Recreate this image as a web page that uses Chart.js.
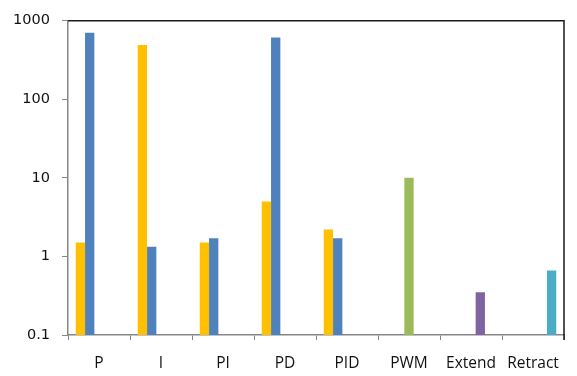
<!DOCTYPE html>
<html>
<head>
<meta charset="utf-8">
<script src="https://cdn.jsdelivr.net/npm/chart.js@4/dist/chart.umd.min.js"></script>
<style>
  html, body { margin: 0; padding: 0; background: #ffffff; }
  canvas { display: block; }
</style>
</head>
<body>
<canvas id="c" width="577" height="376"></canvas>
<script>
// Controller modes along the category axis
const categories = ['P', 'I', 'PI', 'PD', 'PID', 'PWM', 'Extend', 'Retract'];

// One value per category for each series (null = no bar)
const series1 = [1.5, 490, 1.5, 5, 2.2, null, null, null];
const series2 = [700, 1.33, 1.7, 610, 1.7, null, null, null];
const series3 = [null, null, null, null, null, 10, null, null];
const series4 = [null, null, null, null, null, null, 0.35, null];
const series5 = [null, null, null, null, null, null, null, 0.66];

// Log-scale tick values shown on the y axis
const yTicks = [0.1, 1, 10, 100, 1000];

const colors = ['#FFC000', '#4F81BD', '#9BBB59', '#8064A2', '#4BACC6'];
const seriesList = [series1, series2, series3, series4, series5];

const axisGray = '#868686';

// Dark frame along the top and right of the plot area
const framePlugin = {
  id: 'frame',
  afterDraw(chart) {
    const { ctx, chartArea: a } = chart;
    ctx.save();
    ctx.strokeStyle = '#1a1a1a';
    ctx.lineWidth = 1.5;
    ctx.beginPath();
    ctx.moveTo(a.left, a.top);
    ctx.lineTo(a.right, a.top);
    ctx.lineTo(a.right, a.bottom + 5);
    ctx.stroke();
    ctx.restore();
  }
};

new Chart(document.getElementById('c'), {
  type: 'bar',
  data: {
    labels: categories,
    datasets: seriesList.map((d, i) => ({
      label: 'Series ' + (i + 1),
      data: d,
      backgroundColor: colors[i],
      borderWidth: 0,
      barPercentage: 1.0,
      categoryPercentage: 0.75
    }))
  },
  options: {
    responsive: false,
    animation: false,
    devicePixelRatio: 1,
    layout: { padding: { top: 13, right: 13, left: 0, bottom: 0 } },
    plugins: {
      legend: { display: false },
      tooltip: { enabled: false }
    },
    scales: {
      x: {
        offset: true,
        grid: {
          display: true,
          drawOnChartArea: false,
          drawTicks: true,
          tickLength: 5,
          color: axisGray,
          offset: true
        },
        border: { color: axisGray, width: 1.5 },
        ticks: {
          color: '#111111',
          font: { family: 'Open Sans', size: 15.5 },
          padding: 14,
          maxRotation: 0,
          autoSkip: false
        },
        afterFit(scale) { scale.height = 41; }
      },
      y: {
        type: 'logarithmic',
        min: 0.1,
        max: 1000,
        afterBuildTicks(scale) {
          scale.ticks = yTicks.map(v => ({ value: v }));
        },
        grid: {
          display: true,
          drawOnChartArea: false,
          drawTicks: true,
          tickLength: 6,
          color: axisGray
        },
        border: { color: axisGray, width: 1.5 },
        ticks: {
          color: '#111111',
          font: { family: 'DejaVu Sans', size: 14.5 },
          padding: 12,
          callback: v => String(v)
        },
        afterFit(scale) { scale.width = 68; }
      }
    }
  },
  plugins: [framePlugin]
});
</script>
</body>
</html>
